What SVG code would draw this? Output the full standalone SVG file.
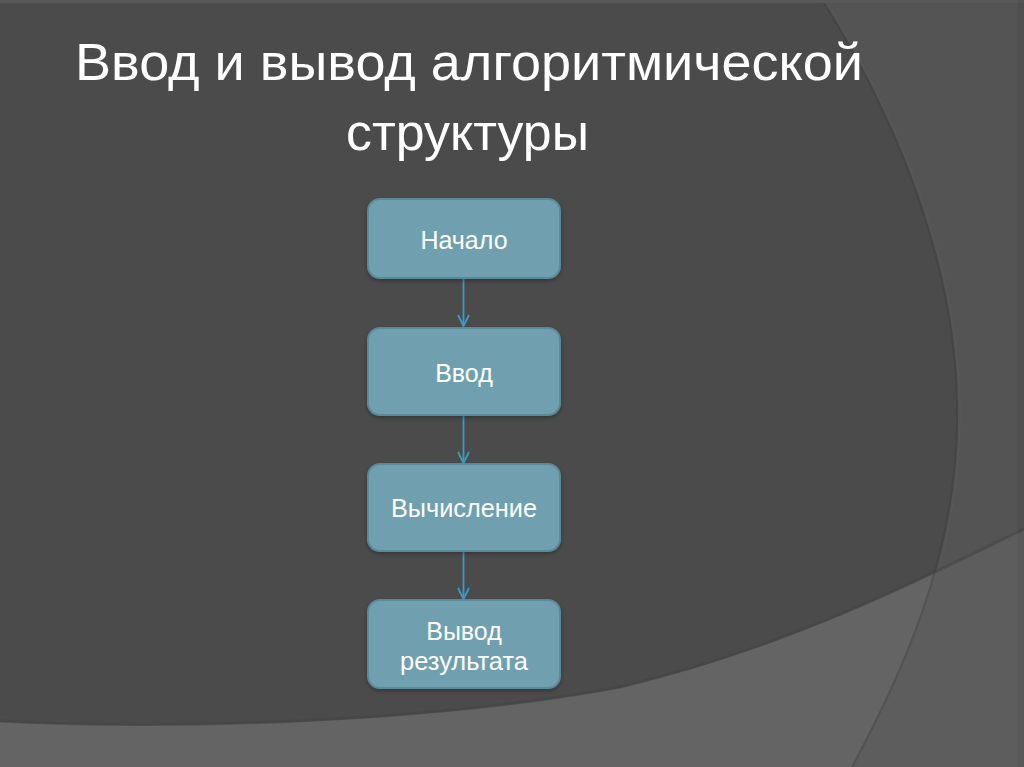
<svg xmlns="http://www.w3.org/2000/svg" width="1024" height="767" viewBox="0 0 1024 767">
  <defs>
    <style>
      .title { font-family: "Liberation Sans", Arial, sans-serif; fill: #ffffff; font-size: 52px; }
      .box { fill: #6fa0af; stroke: #5a8a99; stroke-width: 2; }
      .lbl { font-family: "Liberation Sans", Arial, sans-serif; fill: #ffffff; font-size: 25px; text-anchor: middle; }
      .conn { stroke: #3b9cc3; stroke-width: 1.8; fill: none; }
    </style>
    <marker id="arr" viewBox="0 0 14 14" refX="12" refY="7" markerWidth="14" markerHeight="14" markerUnits="userSpaceOnUse" orient="auto">
      <path d="M1 1.5 L12 7 L1 12.5" fill="none" stroke="#3b9cc3" stroke-width="1.8"/>
    </marker>
    <clipPath id="lower">
      <path d="M0 722 C200 732 450 720 620 688 C780 650 900 590 1024 530 L1024 767 L0 767 Z"/>
    </clipPath>
    <filter id="sh" x="-10%" y="-10%" width="120%" height="130%">
      <feDropShadow dx="0" dy="2" stdDeviation="2" flood-color="#000" flood-opacity="0.3"/>
    </filter>
  </defs>

  <!-- background -->
  <rect x="0" y="0" width="1024" height="767" fill="#4b4b4b"/>
  <path d="M823 0 C905 130 960 280 958 420 C957 560 900 680 853 767 L1024 767 L1024 0 Z" fill="#545454"/>
  <path d="M0 722 C200 732 450 720 620 688 C780 650 900 590 1024 530 L1024 767 L0 767 Z" fill="#646464"/>
  <path d="M823 0 C905 130 960 280 958 420 C957 560 900 680 853 767 L1024 767 L1024 0 Z" fill="#5d5d5d" clip-path="url(#lower)"/>
  <path d="M822 0 C904 130 959 280 957 420 C956 560 899 680 852 767" fill="none" stroke="#3e3e3e" stroke-width="2" stroke-opacity="0.45"/>
  <path d="M825 0 C907 130 962 280 960 420 C959 560 902 680 855 767" fill="none" stroke="#5e5e5e" stroke-width="1" stroke-opacity="0.5"/>
  <path d="M0 721 C200 731 450 719 620 687 C780 649 900 589 1024 529" fill="none" stroke="#424242" stroke-width="3" stroke-opacity="0.45"/>
  <rect x="0" y="0" width="1024" height="3" fill="#585858"/>
  <rect x="1018" y="0" width="6" height="767" fill="#000" fill-opacity="0.05"/>

  <!-- title -->
  <text class="title" x="75" y="80" textLength="788" lengthAdjust="spacingAndGlyphs">Ввод и вывод алгоритмической</text>
  <text class="title" x="346" y="150" textLength="243" lengthAdjust="spacingAndGlyphs">структуры</text>

  <!-- connectors -->
  <g id="connectors">
    <line class="conn" x1="463.5" y1="279" x2="463.5" y2="326" marker-end="url(#arr)"/>
    <line class="conn" x1="463.5" y1="416" x2="463.5" y2="463" marker-end="url(#arr)"/>
    <line class="conn" x1="463.5" y1="552" x2="463.5" y2="599" marker-end="url(#arr)"/>
  </g>

  <!-- nodes -->
  <g id="node-start">
    <rect class="box" x="368" y="199" width="192" height="79" rx="12" filter="url(#sh)"/>
    <text class="lbl" x="464" y="249">Начало</text>
  </g>
  <g id="node-input">
    <rect class="box" x="368" y="328" width="192" height="87" rx="12" filter="url(#sh)"/>
    <text class="lbl" x="464" y="382">Ввод</text>
  </g>
  <g id="node-calc">
    <rect class="box" x="368" y="464" width="192" height="87" rx="12" filter="url(#sh)"/>
    <text class="lbl" x="464" y="517" textLength="146" lengthAdjust="spacingAndGlyphs">Вычисление</text>
  </g>
  <g id="node-output">
    <rect class="box" x="368" y="600" width="192" height="88" rx="12" filter="url(#sh)"/>
    <text class="lbl" x="464" y="640">Вывод</text>
    <text class="lbl" x="464" y="670" textLength="128" lengthAdjust="spacingAndGlyphs">результата</text>
  </g>
</svg>
